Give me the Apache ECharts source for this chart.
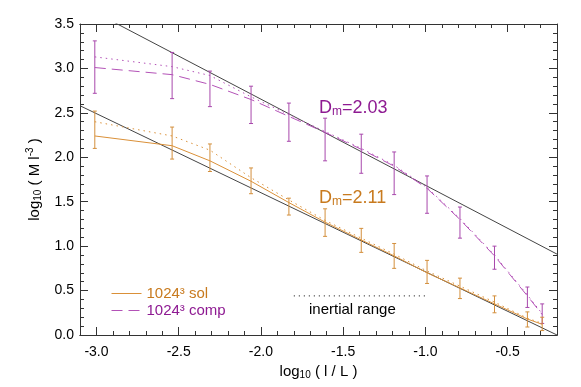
<!DOCTYPE html>
<html>
<head>
<meta charset="utf-8">
<script src="https://cdn.jsdelivr.net/npm/echarts@6/dist/echarts.min.js"></script>
<style>
    html, body { margin: 0; padding: 0; background: #fff; }
    #chart { width: 581px; height: 387px; }
</style>
</head>
<body>
<div id="chart"></div>
<script>
// scales, log10(l/L)
const scales = [-3.01, -2.54, -2.31, -2.06, -1.83, -1.61, -1.39, -1.19, -0.99, -0.79, -0.58, -0.38, -0.29];

// compressible run (purple)
const compMain = [3.01, 2.93, 2.82, 2.65, 2.46, 2.28, 2.09, 1.90, 1.65, 1.30, 0.89, 0.44, 0.23];
const compDot = [3.13, 3.02, 2.92, 2.68, 2.48, 2.29, 2.10, 1.91, 1.66, 1.31, 0.90, 0.45, 0.24];
const compLow = [2.72, 2.66, 2.57, 2.38, 2.18, 1.96, 1.82, 1.58, 1.37, 1.09, 0.74, 0.31, 0.13];
const compHigh = [3.31, 3.18, 2.97, 2.80, 2.61, 2.44, 2.26, 2.06, 1.79, 1.44, 1.00, 0.54, 0.35];

// solenoidal run (orange)
const solMain = [2.24, 2.13, 1.96, 1.73, 1.49, 1.27, 1.07, 0.89, 0.70, 0.53, 0.35, 0.18, 0.12];
const solDot = [2.40, 2.24, 2.08, 1.77, 1.52, 1.29, 1.09, 0.91, 0.72, 0.55, 0.37, 0.19, 0.13];
const solLow = [2.10, 1.98, 1.84, 1.59, 1.35, 1.11, 0.93, 0.75, 0.58, 0.41, 0.25, 0.09, 0.05];
const solHigh = [2.52, 2.34, 2.15, 1.88, 1.54, 1.42, 1.20, 1.03, 0.84, 0.64, 0.44, 0.26, 0.20];

// power-law fits (end points)
const fitComp = [[-3.1, 3.72], [-0.2, 0.91]];
const fitSol = [[-3.1, 2.58], [-0.2, 0.0]];
const inertialRange = [[-1.8, 0.44], [-1.0, 0.44]];

const xLabels = [-3.0, -2.5, -2.0, -1.5, -1.0, -0.5];
const xMinor = [];
for (let v = -31; v <= -2; v++) {
    xMinor.push(v / 10);
}

const purple = "#8e1a92";
const purpleLine = "#b352b7";
const orange = "#c87a1e";
const orangeLine = "#da9038";
const axisColor = "#333";
const font = "Liberation Sans";

const chart = echarts.init(document.getElementById("chart"));

function errorBars(name, low, high, color) {
    return {
        name: name,
        type: "custom",
        z: 3,
        renderItem: (params, api) => {
            const x = api.value(0);
            const p1 = api.coord([x, api.value(1)]);
            const p2 = api.coord([x, api.value(2)]);
            const style = { stroke: color, lineWidth: 1 };
            const cap = 2;
            return {
                type: "group",
                children: [
                    { type: "line", shape: { x1: p1[0], y1: p1[1], x2: p2[0], y2: p2[1] }, style: style },
                    { type: "line", shape: { x1: p1[0] - cap, y1: p1[1], x2: p1[0] + cap, y2: p1[1] }, style: style },
                    { type: "line", shape: { x1: p2[0] - cap, y1: p2[1], x2: p2[0] + cap, y2: p2[1] }, style: style }
                ]
            };
        },
        encode: { x: 0, y: [1, 2] },
        data: scales.map((x, i) => [x, low[i], high[i]])
    };
}

function lineSeries(name, values, color, type) {
    return {
        name: name,
        type: "line",
        symbol: "none",
        z: 4,
        lineStyle: { color: color, width: 1, type: type },
        itemStyle: { color: color },
        data: scales.map((x, i) => [x, values[i]])
    };
}

function straight(name, points, color, type) {
    return {
        name: name,
        type: "line",
        symbol: "none",
        z: 2,
        silent: true,
        lineStyle: { color: color, width: 1, type: type },
        data: points
    };
}

const baseX = {
    type: "value",
    min: -3.1,
    max: -0.2,
    splitLine: { show: false },
    axisLine: { lineStyle: { color: axisColor, width: 1 } }
};

const baseY = {
    type: "value",
    min: 0,
    max: 3.5,
    interval: 0.5,
    splitLine: { show: false },
    axisLine: { lineStyle: { color: axisColor, width: 1 } },
    axisTick: { inside: true, length: 8, lineStyle: { color: axisColor } },
    minorTick: { show: true, splitNumber: 5, length: 4, lineStyle: { color: axisColor } }
};

chart.setOption({
    animation: false,
    textStyle: { fontFamily: font },
    grid: { left: 80, right: 24, top: 24, bottom: 52 },
    legend: {
        left: 106,
        top: 281,
        orient: "vertical",
        itemWidth: 30,
        itemHeight: 12,
        itemGap: 2,
        itemStyle: { opacity: 0 },
        lineStyle: { width: 1 },
        textStyle: { fontSize: 15, fontFamily: font },
        data: [
            { name: "1024³ sol", textStyle: { color: orange } },
            { name: "1024³ comp", textStyle: { color: purple } }
        ]
    },
    xAxis: [
        {
            ...baseX,
            position: "bottom",
            name: "{n|log}{s|10}{n| ( l / L )}",
            nameLocation: "middle",
            nameGap: 23,
            nameTextStyle: {
                rich: {
                    n: { fontSize: 15, fontFamily: font, color: "#000" },
                    s: { fontSize: 10, fontFamily: font, color: "#000", padding: [8, 0, 0, 0] }
                }
            },
            axisTick: { inside: true, length: 8, customValues: xLabels, lineStyle: { color: axisColor } },
            axisLabel: {
                customValues: xLabels,
                color: "#000",
                fontSize: 14,
                margin: 10,
                formatter: v => v.toFixed(1)
            }
        },
        {
            ...baseX,
            position: "bottom",
            axisTick: { inside: true, length: 4, customValues: xMinor, lineStyle: { color: axisColor } },
            axisLabel: { show: false }
        },
        {
            ...baseX,
            position: "top",
            axisTick: { inside: true, length: 8, customValues: xLabels, lineStyle: { color: axisColor } },
            axisLabel: { show: false }
        },
        {
            ...baseX,
            position: "top",
            axisTick: { inside: true, length: 4, customValues: xMinor, lineStyle: { color: axisColor } },
            axisLabel: { show: false }
        }
    ],
    yAxis: [
        {
            ...baseY,
            position: "left",
            name: "{n|log}{s|10}{n| ( M l}{p|-3}{n| )}",
            nameLocation: "middle",
            nameRotate: 90,
            nameGap: 30,
            nameTextStyle: {
                rich: {
                    n: { fontSize: 15, fontFamily: font, color: "#000" },
                    s: { fontSize: 10, fontFamily: font, color: "#000", padding: [8, 0, 0, 0] },
                    p: { fontSize: 10, fontFamily: font, color: "#000", padding: [0, 0, 8, 0] }
                }
            },
            axisLabel: {
                color: "#000",
                fontSize: 14,
                margin: 6,
                formatter: v => v.toFixed(1)
            }
        },
        {
            ...baseY,
            position: "right",
            axisLabel: { show: false }
        }
    ],
    graphic: [
        {
            type: "text",
            left: 319,
            top: 99,
            style: {
                text: "{d|D}{m|m}{d|=2.03}",
                rich: {
                    d: { fontSize: 18, fontFamily: font, fill: purple },
                    m: { fontSize: 12, fontFamily: font, fill: purple, padding: [8, 0, 0, 0] }
                }
            }
        },
        {
            type: "text",
            left: 319,
            top: 189,
            style: {
                text: "{d|D}{m|m}{d|=2.11}",
                rich: {
                    d: { fontSize: 18, fontFamily: font, fill: orange },
                    m: { fontSize: 12, fontFamily: font, fill: orange, padding: [8, 0, 0, 0] }
                }
            }
        },
        {
            type: "text",
            left: 309,
            top: 302,
            style: { text: "inertial range", fontSize: 15, fontFamily: font, fill: "#000" }
        }
    ],
    series: [
        straight("fit comp", fitComp, "#444", "solid"),
        straight("fit sol", fitSol, "#444", "solid"),
        straight("inertial", inertialRange, "#000", [1, 4]),
        errorBars("comp err", compLow, compHigh, "#a848ac"),
        errorBars("sol err", solLow, solHigh, "#d38f3c"),
        lineSeries("1024³ sol", solMain, orangeLine, "solid"),
        lineSeries("sol dotted", solDot, orangeLine, [1.5, 4]),
        lineSeries("1024³ comp", compMain, purpleLine, [11, 6]),
        lineSeries("comp dotted", compDot, purpleLine, [1.5, 4])
    ]
});
</script>
</body>
</html>
